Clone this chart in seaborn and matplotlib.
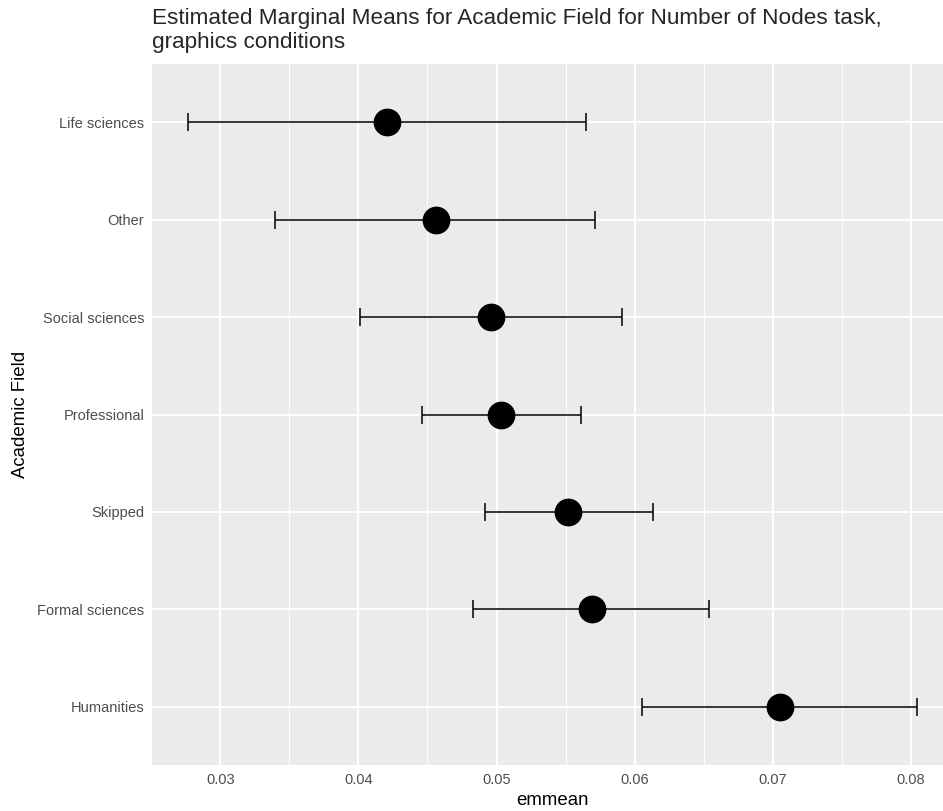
import matplotlib
matplotlib.use("Agg")
import matplotlib.pyplot as plt
from matplotlib.ticker import MultipleLocator, FormatStrFormatter
import numpy as np
import pandas as pd
import seaborn as sns

# values, top row first
fields = ['Life sciences', 'Other', 'Social sciences', 'Professional',
          'Skipped', 'Formal sciences', 'Humanities']
emmean = [0.0421, 0.0456, 0.0496, 0.0503, 0.0552, 0.0569, 0.0705]
lower = [0.0277, 0.0340, 0.0401, 0.0446, 0.0492, 0.0483, 0.0605]
upper = [0.0565, 0.0571, 0.0591, 0.0561, 0.0613, 0.0654, 0.0804]

df = pd.DataFrame({'field': fields, 'emmean': emmean,
                   'lower': lower, 'upper': upper})

sns.set_theme(style='darkgrid', rc={'axes.facecolor': '#EBEBEB',
                                    'grid.color': 'white'})
plt.rcParams['font.family'] = ['Liberation Sans', 'DejaVu Sans']

fig = plt.figure(figsize=(9.43, 8.11), dpi=100)
ax = fig.add_axes([152 / 943, 1 - 765 / 811, 801 / 943, 701 / 811])

ax.errorbar(df['emmean'], df['field'],
            xerr=[df['emmean'] - df['lower'], df['upper'] - df['emmean']],
            fmt='none', ecolor='black', elinewidth=1.1,
            capsize=6.5, capthick=1.1, zorder=2)
sns.scatterplot(data=df, x='emmean', y='field', ax=ax, color='black',
                s=400, linewidth=0, zorder=3)

# ggplot-like expansion of the x range
lo, hi = min(lower), max(upper)
r = hi - lo
ax.set_xlim(lo - 0.05 * r, hi + 0.05 * r)
ax.set_ylim(len(fields) - 0.4, -0.6)

ax.xaxis.set_major_locator(MultipleLocator(0.01))
ax.xaxis.set_major_formatter(FormatStrFormatter('%.2f'))
ax.xaxis.set_minor_locator(MultipleLocator(0.005))
ax.grid(which='major', color='white', linewidth=1.4)
ax.grid(which='minor', axis='x', color='white', linewidth=0.7)
ax.tick_params(which='major', length=3, width=0.8, color='#333333',
               labelsize=10.5, labelcolor='#4D4D4D', pad=2.5)
ax.tick_params(which='minor', length=0)
for s in ax.spines.values():
    s.set_visible(False)

ax.set_xlabel('emmean', fontsize=13.4, color='black', labelpad=4)
ax.set_ylabel('Academic Field', fontsize=13.4, color='black', labelpad=6)

fig.text(152 / 943, 1 - 8 / 811,
         'Estimated Marginal Means for Academic Field for Number of Nodes task,\n'
         'graphics conditions',
         ha='left', va='top', fontsize=16.2, linespacing=1.2)

fig.savefig('out.png', dpi=100)
